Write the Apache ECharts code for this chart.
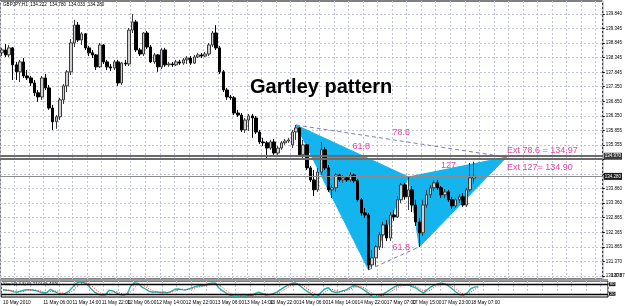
<!DOCTYPE html>
<html><head><meta charset="utf-8">
<script src="https://cdn.jsdelivr.net/npm/echarts@6/dist/echarts.min.js"></script>
<style>html,body{margin:0;padding:0;background:#fff}#c{width:625px;height:306px}</style>
</head><body><div id="c"></div>
<script>
// ---- data: [open, close, low, high] per H1 bar, GBPJPY ----
const candles = [
[138.51,138.61,138.40,138.68],[138.61,138.44,138.37,138.81],[138.44,138.68,138.37,138.78],[138.68,138.10,137.58,138.71],[138.10,137.86,137.58,138.20],
[137.86,138.20,137.51,138.27],[138.20,137.72,137.65,138.33],[137.72,137.65,137.58,137.92],[137.65,137.48,137.38,137.72],[137.48,137.14,137.03,137.58],
[137.14,137.00,136.83,137.24],[137.00,137.65,136.90,137.72],[137.65,137.31,137.24,137.79],[137.31,136.62,136.56,137.41],[136.62,136.15,135.87,136.73],
[136.15,136.32,135.91,136.38],[136.32,136.90,136.21,136.97],[136.90,137.38,136.76,137.44],[137.38,137.86,137.17,137.92],[137.86,138.85,137.75,138.98],
[138.85,139.46,138.71,139.64],[139.46,138.95,138.88,139.57],[138.95,139.16,138.78,139.22],[139.16,138.68,138.61,139.19],[138.68,138.51,138.40,138.75],
[138.51,138.44,138.33,138.61],[138.44,138.03,137.92,138.47],[138.03,138.78,137.99,138.85],[138.78,138.20,138.13,138.81],[138.20,138.03,137.92,138.27],
[138.03,137.99,137.89,138.13],[137.99,138.20,137.92,138.27],[138.20,137.48,137.38,138.27],[137.48,138.16,137.41,138.20],[138.16,138.13,138.06,138.27],
[138.13,139.29,138.06,139.36],[139.29,139.57,139.19,139.84],[139.57,138.61,138.54,139.64],[138.61,138.47,138.40,138.68],[138.47,139.19,138.40,139.22],
[139.19,138.71,138.64,139.26],[138.71,138.20,138.16,138.78],[138.20,138.44,138.13,138.51],[138.44,138.03,137.86,138.47],[138.03,138.61,137.96,138.68],
[138.61,138.10,138.03,138.68],[138.10,138.13,138.03,138.20],[138.13,138.10,138.03,138.20],[138.10,138.20,138.06,138.27],[138.20,138.16,138.10,138.27],
[138.16,138.27,138.10,138.33],[138.27,138.33,138.13,138.40],[138.33,138.16,138.10,138.40],[138.16,138.37,138.13,138.44],[138.37,138.44,138.33,138.51],
[138.44,138.40,138.33,138.51],[138.40,138.47,138.37,138.54],[138.47,138.78,138.40,138.85],[138.78,139.19,138.71,139.26],[139.19,138.68,138.61,139.46],
[138.68,137.86,137.79,138.75],[137.86,137.24,137.17,137.92],[137.24,137.00,136.90,137.31],[137.00,136.97,136.90,137.07],[136.97,136.45,136.38,137.03],
[136.45,136.38,136.32,136.56],[136.38,135.87,135.80,136.45],[135.87,136.21,135.77,136.28],[136.21,136.35,135.84,136.42],[136.35,136.28,135.60,136.42],
[136.28,135.80,135.73,136.35],[135.80,135.46,135.39,135.87],[135.46,135.43,135.32,135.60],[135.43,135.25,134.91,135.49],[135.25,135.46,135.19,135.53],
[135.46,135.08,135.02,135.56],[135.08,135.25,135.02,135.32],[135.25,135.43,135.19,135.49],[135.43,135.49,135.36,135.56],[135.49,135.53,135.43,135.60],
[135.36,135.80,135.25,135.87],[135.80,135.94,135.53,136.04],[135.94,135.02,134.95,135.97],[135.02,135.36,134.91,135.53],[135.36,134.57,134.50,135.39],
[134.57,134.16,134.09,134.64],[134.16,133.82,133.61,134.50],[133.82,134.43,133.75,134.57],[134.43,135.19,134.33,135.46],[135.19,134.57,134.50,135.29],
[134.57,133.82,133.75,134.67],[133.82,133.89,133.54,133.99],[133.89,134.33,133.75,134.40],[134.33,134.16,134.09,134.37],[134.16,134.23,134.06,134.33],
[134.23,134.16,134.09,134.26],[134.16,134.33,134.09,134.43],[134.33,134.13,134.06,134.37],[134.13,133.48,133.41,134.19],[133.48,133.03,132.93,133.54],
[133.03,132.96,132.86,133.20],[132.96,131.25,131.08,133.03],[131.25,131.49,131.15,131.76],[131.49,131.87,131.22,131.94],[131.87,132.28,131.76,132.38],
[132.28,132.62,131.83,132.72],[132.62,132.17,132.07,132.79],[132.17,132.96,132.07,133.06],[132.96,132.89,132.76,133.13],[132.89,133.48,132.86,133.61],
[133.48,133.99,133.37,134.06],[133.99,133.58,133.48,134.06],[133.58,133.82,133.13,134.26],[133.82,133.30,133.06,133.95],[133.30,132.72,132.58,133.48],
[132.72,132.35,131.87,132.86],[132.35,133.30,132.24,133.48],[133.30,133.65,133.20,133.82],[133.65,133.89,133.54,133.99],[133.89,134.06,133.78,134.16],
[134.06,133.89,133.82,134.16],[133.89,133.65,133.54,133.95],[133.65,133.75,133.54,133.85],[133.75,133.48,133.41,133.82],[133.48,133.27,133.17,133.58],
[133.27,133.48,133.20,133.54],[133.48,133.58,133.37,133.68],[133.58,133.30,133.24,133.71],[133.30,133.82,133.24,133.89],[133.82,134.23,133.75,134.74],
[134.222,134.280,134.033,134.780]
];
const stochMain = [45,42,40,32,30,38,44,46,44,40,32,25,28,48,35,24,18,22,35,60,85,94,90,80,55,31,18,12,14,42,38,25,15,12,20,70,88,84,62,50,35,30,32,28,30,26,35,48,50,46,44,52,60,68,70,72,80,86,88,58,40,25,12,6,5,6,5,8,10,22,31,20,12,15,22,32,48,62,75,84,88,75,56,38,25,5,3,30,50,58,35,28,32,40,46,60,70,66,56,40,24,4,2,5,18,32,48,62,72,76,75,74,65,55,40,24,45,62,75,82,87,80,68,48,30,14,12,26,52,62,65];
const stochSignal = [44,43,42,38,34,33,37,43,45,43,39,32,28,34,37,36,26,21,25,39,60,80,90,88,75,55,35,20,15,23,31,35,26,17,16,34,59,81,78,65,49,38,32,30,30,28,30,36,44,48,47,47,52,60,66,70,74,79,85,77,62,41,26,14,8,6,5,6,8,13,21,24,21,16,16,23,34,47,62,74,82,82,73,56,40,23,11,13,28,46,48,40,32,33,39,49,59,65,64,54,40,23,10,4,8,18,33,47,61,70,74,75,72,65,53,40,36,44,61,73,81,83,78,65,49,31,19,17,30,47,60];
const timeLabels = ['10 May 2010','11 May 06:00','11 May 14:00','11 May 22:00','12 May 06:00','12 May 14:00','12 May 22:00','13 May 06:00','13 May 14:00','13 May 22:00','14 May 06:00','14 May 14:00','14 May 22:00','17 May 07:00','17 May 15:00','17 May 23:00','18 May 07:00'];
const timeLabelBars = [0,11,19,27,34,42,50,58,66,73,81,89,97,105,112,120,128];
const priceTicks = [130.870,131.370,131.865,132.365,132.865,133.360,133.860,134.360,134.855,135.355,135.855,136.350,136.850,137.350,137.845,138.345,138.845,139.345,139.840];
const coveredPriceTicks = [134.855,134.360];
const levels = {ext786:134.97, ext127:134.90, bid:134.280};
const stochLevels = [80,20];
// Gartley points [bar, price]
const ptX = [81,136.04], ptA = [101,131.08], ptB = [112,134.26], ptC = [115,131.87], ptD = [139,134.94];
const ratioLabels = [
  {name:'78.6', value:[110,135.77]},
  {name:'61.8', value:[99,135.29]},
  {name:'127', value:[123,134.64]},
  {name:'61.8', value:[110,131.83]}
];
const extLabels = [
  {name:'Ext 78.6 = 134.97', value:[139,135.15]},
  {name:'Ext 127= 134.90', value:[139,134.60]}
];
const totalSlots = 166;

const cats = Array.from({length: totalSlots}, (_, i) => String(i));
const labelMap = {};
timeLabelBars.forEach((b, k) => labelMap[b] = timeLabels[k]);

const FONT = 'Liberation Sans';
const gridLine = {show:true, interval:(i)=>i%4===0, lineStyle:{color:'#c2c5d4', type:[2,2], width:1}};
const magenta = '#e0148a';
const shownPriceTicks = priceTicks.filter(v=>coveredPriceTicks.indexOf(v)<0);
const chart = echarts.init(document.getElementById('c'), null, {renderer:'canvas'});
chart.setOption({
  animation:false,
  backgroundColor:'#fff',
  grid:[
    {left:0, top:1, width:608, height:278, show:true, borderColor:'#000', borderWidth:1},
    {left:0, top:281, width:608, height:16, show:true, borderColor:'#000', borderWidth:1}
  ],
  xAxis:[
    {gridIndex:0, type:'category', position:'top', data:cats, boundaryGap:true, axisLine:{show:false}, axisTick:{show:false}, axisLabel:{show:false}, splitLine:gridLine},
    {gridIndex:1, type:'category', data:cats, boundaryGap:true, axisLine:{show:false}, axisTick:{show:false},
     axisLabel:{show:true, interval:0, formatter:(v, i)=>labelMap[i]||'', align:'left', fontSize:4.8, fontFamily:FONT, color:'#000', margin:3, hideOverlap:false},
     splitLine:gridLine}
  ],
  yAxis:[
    {gridIndex:0, type:'value', position:'right', min:130.767, max:140.285,
     axisLine:{show:false},
     axisTick:{show:true, customValues:priceTicks, length:2, lineStyle:{color:'#000'}},
     axisLabel:{customValues:shownPriceTicks, formatter:(v)=>v.toFixed(3), fontSize:4.5, fontFamily:FONT, color:'#000', margin:3, showMinLabel:true, showMaxLabel:true, hideOverlap:false},
     splitLine:{show:true, lineStyle:{color:'#c2c5d4', type:[2,2], width:1}}},
    {gridIndex:1, type:'value', show:false, position:'left', min:0, max:100, axisLine:{show:false}, axisTick:{show:false}, axisLabel:{show:false}, splitLine:{show:false}}
  ],
  series:[
    {
      type:'custom', xAxisIndex:0, yAxisIndex:0, z:1, silent:true,
      data:[[ptX[0],ptX[1],ptA[0],ptA[1],ptB[0],ptB[1]],[ptB[0],ptB[1],ptC[0],ptC[1],ptD[0],ptD[1]]],
      renderItem:(params, api)=>{
        const pts=[0,1,2].map(k=>api.coord([api.value(2*k), api.value(2*k+1)]));
        return {type:'polygon', shape:{points:pts}, style:{fill:'#14b5ee', stroke:'#14b5ee', lineWidth:1}};
      }
    },
    {
      type:'candlestick', xAxisIndex:0, yAxisIndex:0, z:3, data:candles, barWidth:3,
      itemStyle:{color:'#d0d0d0', color0:'#000', borderColor:'#3a3a3a', borderColor0:'#000', borderWidth:1},
      markLine:{silent:true, symbol:'none', animation:false, data:[
        {yAxis:levels.ext786, lineStyle:{color:'#6c6c6c', width:2, type:'solid'},
         label:{show:true, position:'end', distance:1, formatter:'134.970', fontSize:4.5, fontFamily:FONT, color:'#fff', backgroundColor:'#3c3c3c', padding:[1,1]}},
        {yAxis:levels.ext127, lineStyle:{color:'#6c6c6c', width:2, type:'solid'}, label:{show:false}},
        {yAxis:levels.bid, lineStyle:{color:'#8c8c8c', width:1, type:'solid'},
         label:{show:true, position:'end', distance:1, formatter:'134.280', fontSize:4.5, fontFamily:FONT, color:'#fff', backgroundColor:'#1c1c1c', padding:[1,1]}}
      ]}
    },
    {type:'line', xAxisIndex:0, yAxisIndex:0, z:4, silent:true, symbol:'none', data:[ptX, ptD], lineStyle:{color:'#7c7cc4', width:1, type:[4,3]}},
    {type:'line', xAxisIndex:0, yAxisIndex:0, z:4, silent:true, symbol:'none', data:[ptA, ptC], lineStyle:{color:'#7c7cc4', width:1, type:[4,3]}},
    {type:'scatter', xAxisIndex:0, yAxisIndex:0, z:5, silent:true, symbolSize:1, itemStyle:{color:'rgba(0,0,0,0)'}, data:ratioLabels,
     label:{show:true, position:'inside', formatter:'{b}', color:magenta, fontSize:9, fontFamily:FONT, textBorderWidth:0}},
    {type:'scatter', xAxisIndex:0, yAxisIndex:0, z:5, silent:true, symbolSize:1, itemStyle:{color:'rgba(0,0,0,0)'}, data:extLabels,
     label:{show:true, position:'right', distance:0, formatter:'{b}', color:magenta, fontSize:9, fontFamily:FONT, textBorderWidth:0}},
    {type:'line', xAxisIndex:1, yAxisIndex:1, z:3, silent:true, symbol:'none', data:stochMain, lineStyle:{color:'#20b2aa', width:1.4}},
    {type:'line', xAxisIndex:1, yAxisIndex:1, z:4, silent:true, symbol:'none', data:stochSignal, lineStyle:{color:'#ff2a2a', width:1, type:[1,1.5]},
     markLine:{silent:true, symbol:'none', animation:false, data:stochLevels.map(v=>({yAxis:v})),
       lineStyle:{color:'#000', width:1.4, type:'solid'},
       label:{show:true, position:'end', distance:1, formatter:(p)=>String(p.value), fontSize:4, fontFamily:FONT, color:'#fff', backgroundColor:'#222', padding:[0,1]}}}
  ],
  graphic:[
    {type:'rect', left:0, top:279, shape:{width:608, height:2}, style:{fill:'#9c9c9c'}, z:10},
    {type:'text', left:3, top:2, style:{text:'GBPJPY,H1  134.222  134.780  134.033  134.280', fontSize:4.6, fontFamily:FONT, fill:'#000'}, z:10},
    {type:'text', left:250, top:77, style:{text:'Gartley pattern', fontSize:20, fontWeight:'bold', fontFamily:FONT, fill:'#000'}, z:10},
    {type:'text', left:3, top:282, style:{text:'Stoch(5,3,3) 65.2774 65.4976', fontSize:4.2, fontFamily:FONT, fill:'#000'}, z:10}
  ]
});
// lowest price label, placed through the price axis scale
const lowY = chart.convertToPixel({yAxisIndex:0}, shownPriceTicks[0]);
chart.setOption({graphic:[{id:'lowPrice', type:'text', x:611, y:lowY, z:20,
  style:{text:shownPriceTicks[0].toFixed(3), fontSize:4.5, fontFamily:FONT, fill:'#000', verticalAlign:'middle', align:'left'}}]});
</script></body></html>
